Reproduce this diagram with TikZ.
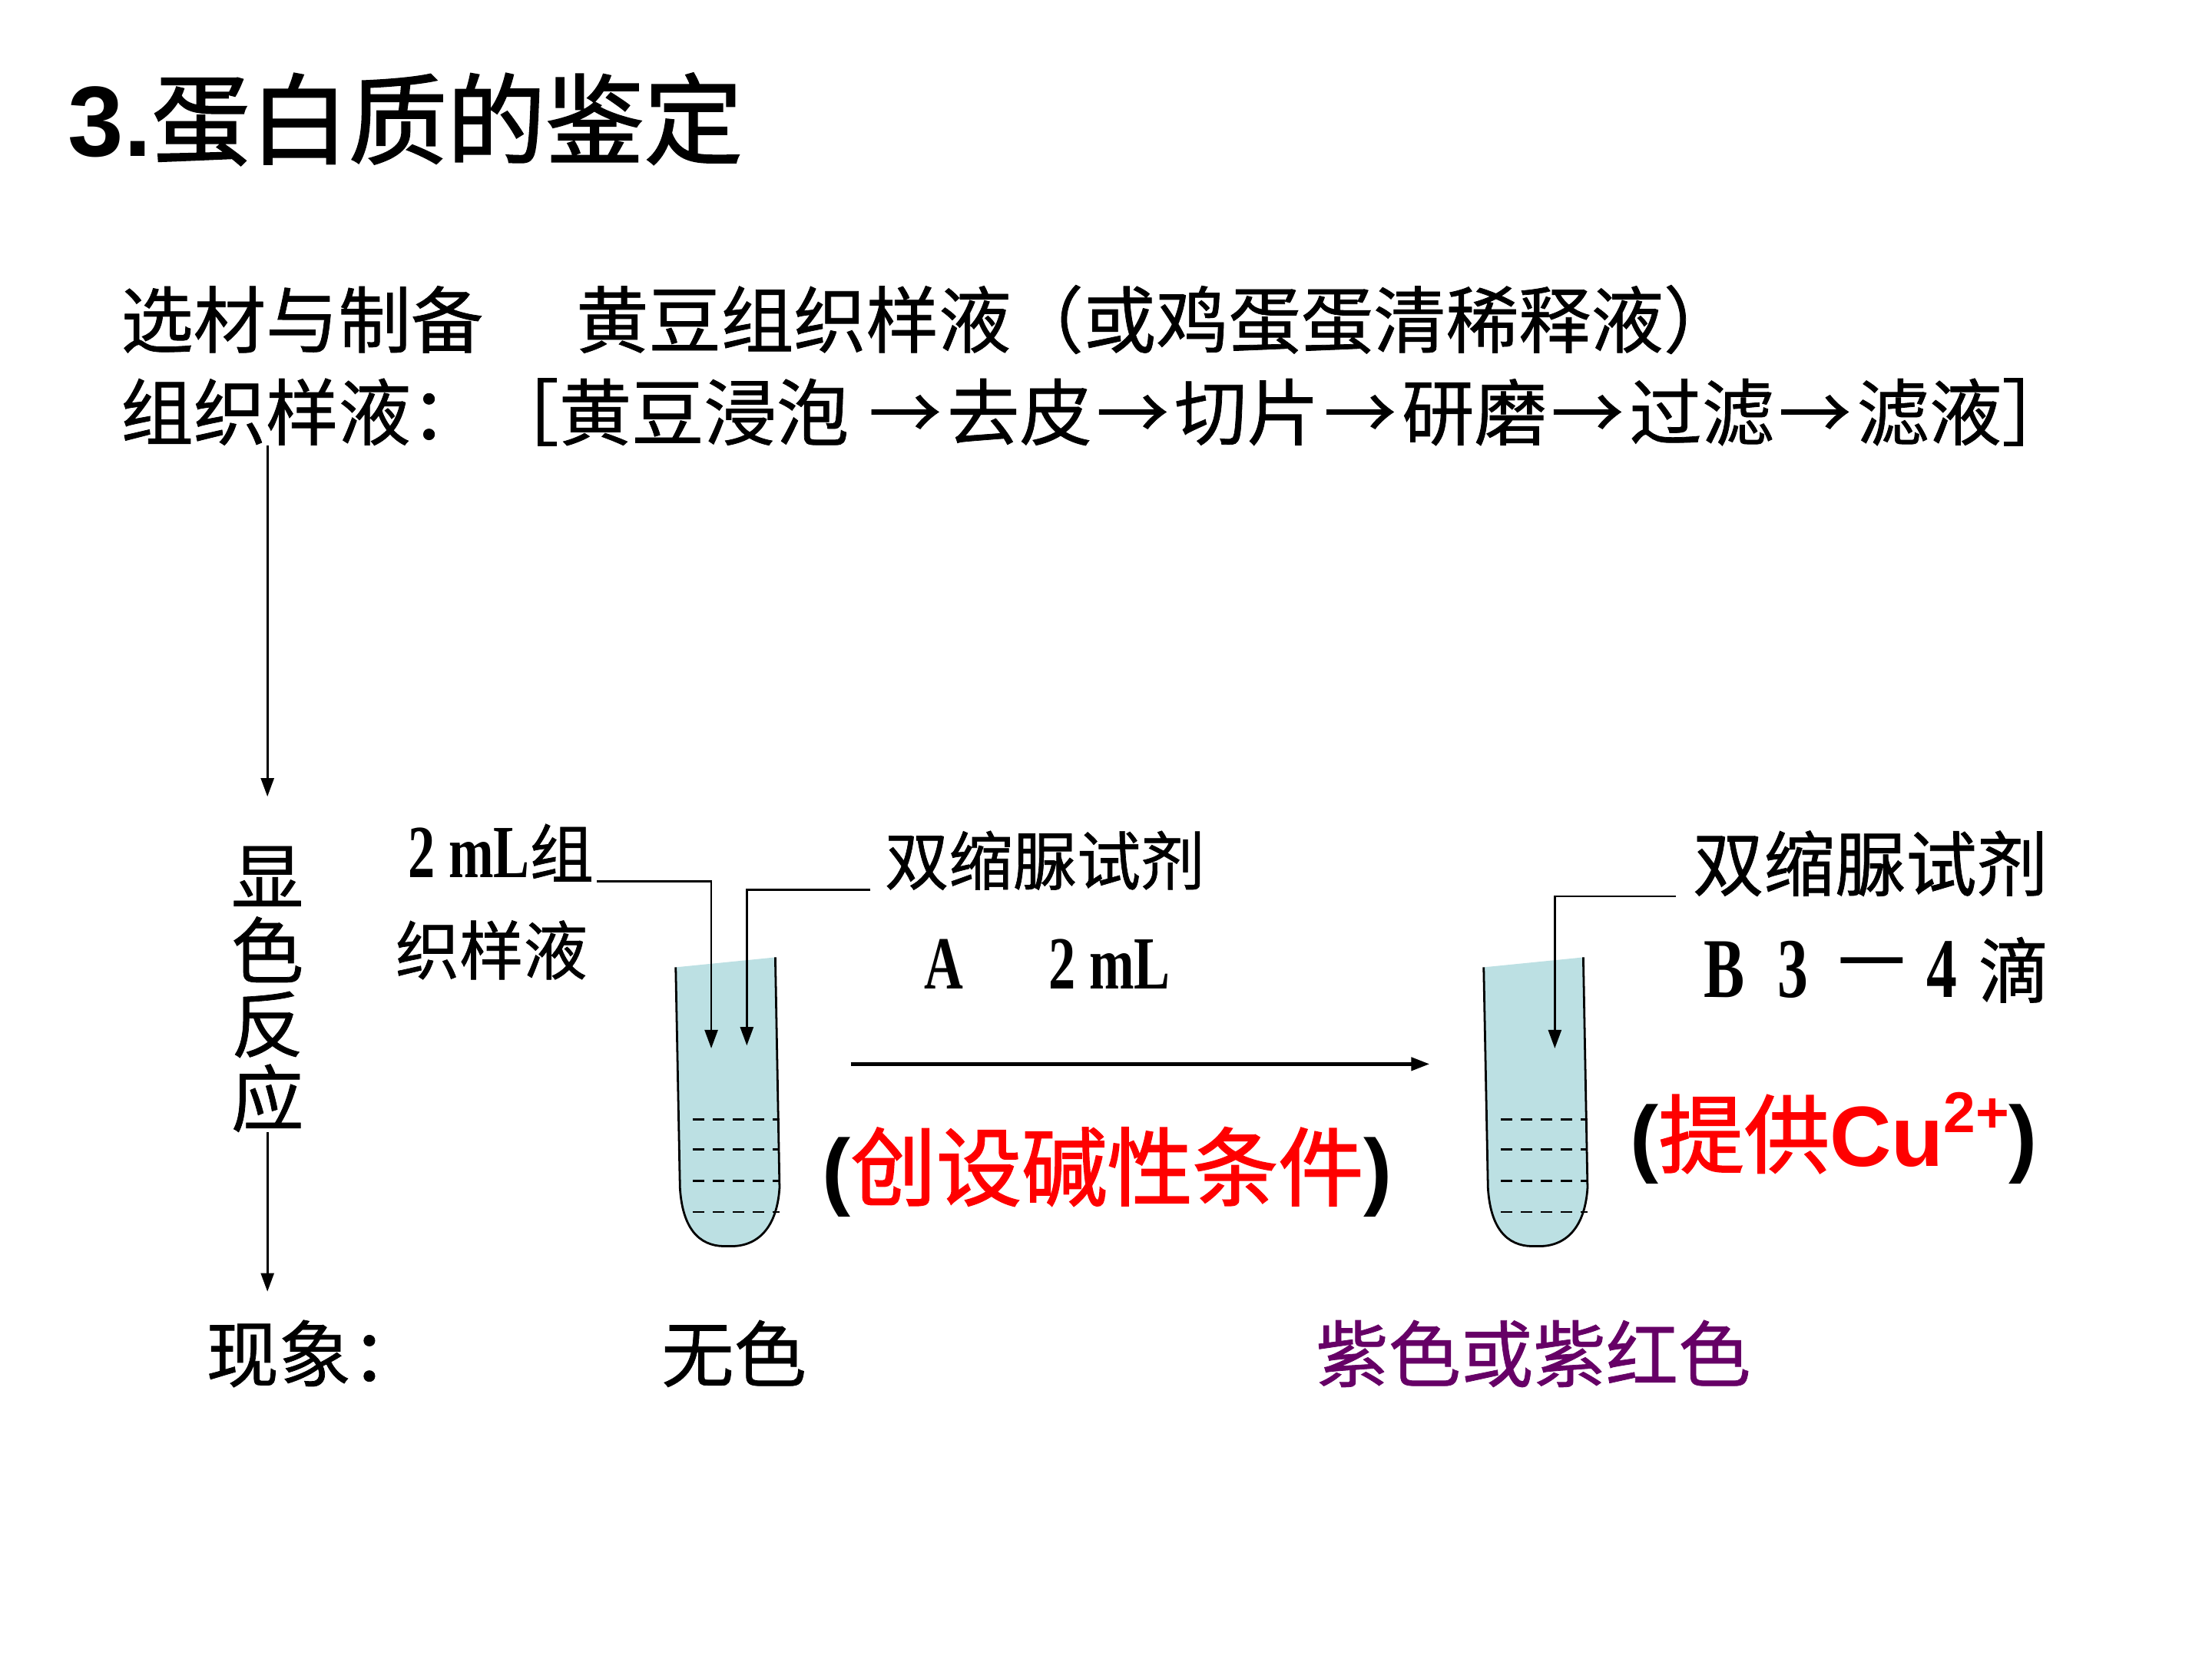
\documentclass[tikz,border=0pt]{standalone}
\usepackage{fontspec}
\setmainfont{Liberation Serif}
\newfontfamily\cjk[FakeBold=0.8]{Noto Sans CJK SC}
\newfontfamily\cjkheavy[FakeBold=1.6]{Noto Sans CJK SC}
\newfontfamily\arial{Liberation Sans}
\newfontfamily\narrowserif[FakeStretch=0.72]{Liberation Serif}
\usetikzlibrary{arrows.meta}

\newlength{\du}
\setlength{\du}{0.1mm}

\definecolor{tubefill}{rgb}{0.737,0.878,0.890}
\definecolor{purpletext}{rgb}{0.400,0.000,0.400}

\tikzset{
  every node/.style={inner sep=0pt,outer sep=0pt},
  txt/.style={anchor=base west},
  link/.style={line width=1.5\du,-{Triangle[length=3.7pt,width=2.6pt]}},
  tubeline/.style={line width=1.5\du},
  scaleline/.style={line width=1.5\du,dash pattern=on 2.3pt off 1.7pt},
}

\begin{document}
\begin{tikzpicture}
\pgftransformxscale{1.000000}
\pgftransformyscale{-1.000000}
\fill[white] (0\du,0\du) rectangle (1555\du,1166.25\du);
\useasboundingbox (0\du,0\du) rectangle (1555\du,1166.25\du);
% title
\node[txt] (title) at (48\du,110\du) {{\arial\bfseries\fontsize{20}{24}\selectfont 3.}{\cjkheavy\fontsize{19.7}{24}\selectfont 蛋白质的鉴定}};
% material and preparation
\node[txt] (select) at (85\du,244\du) {\cjk\fontsize{14.5}{17}\selectfont 选材与制备};
\node[txt] (soy) at (405\du,244\du) {\cjk\fontsize{14.5}{17}\selectfont 黄豆组织样液（或鸡蛋蛋清稀释液）};
\node[txt] (tissue) at (85\du,309\du) {\cjk\fontsize{14.5}{17}\selectfont 组织样液：};
\node[txt] (steps) at (342\du,309\du) {\cjk\fontsize{14.5}{17}\selectfont ［黄豆浸泡\hspace{14\du}→\hspace{4\du}去皮\hspace{3\du}→\hspace{4\du}切片\hspace{3\du}→\hspace{4\du}研磨\hspace{3\du}→\hspace{4\du}过滤\hspace{3\du}→\hspace{4\du}滤液］};
% colour reaction
\node[anchor=north,align=center,font=\cjk\fontsize{14.5}{14.8}\selectfont] (react) at (188\du,595\du) {显\\色\\反\\应};
\node[txt] (effect) at (145\du,971\du) {\cjk\fontsize{14.5}{17}\selectfont 现象：};
\draw[link,shorten >=35\du] (tissue.south -| react) -- (react.north);
\draw[link,shorten >=20\du] (react.south) -- (react |- effect.north);
% sample
\node[txt,inner xsep=2\du] (sample) at (285\du,617\du) {{\narrowserif\bfseries\fontsize{15}{18}\selectfont 2 mL}{\cjk\fontsize{12.8}{15}\selectfont 组}};
\node[txt] (sample2) at (278\du,685\du) {\cjk\fontsize{12.8}{15}\selectfont 织样液};
\node[txt,inner xsep=10\du] (reagA) at (612\du,622\du) {\cjk\fontsize{12.8}{15}\selectfont 双缩脲试剂};
\node[txt] (reagA2) at (650\du,695\du) {\narrowserif\bfseries\fontsize{15}{18}\selectfont A\hspace{60\du}2 mL};
\node[txt,inner xsep=12\du] (reagB) at (1178\du,626\du) {\cjk\fontsize{14.2}{17}\selectfont 双缩脲试剂};
\node[txt] (reagB2) at (1198\du,701\du) {{\narrowserif\bfseries\fontsize{17}{20}\selectfont B\hspace{23\du}3\hspace{23\du}\raisebox{12\du}{—}\hspace{17\du}4\hspace{15\du}}{\cjk\fontsize{14.2}{17}\selectfont 滴}};
% tube 1
\fill[tubefill] (475\du,680\du) -- (478\du,835\du) .. controls (480\du,868\du) and (495\du,877\du) .. (512\du,876\du) .. controls (530\du,877\du) and (546\du,866\du) .. (548\du,835\du) -- (545\du,673\du) -- cycle;
\draw[tubeline] (475\du,680\du) -- (478\du,835\du) .. controls (480\du,868\du) and (495\du,877\du) .. (512\du,876\du) .. controls (530\du,877\du) and (546\du,866\du) .. (548\du,835\du) -- (545\du,673\du);
\draw[scaleline] (487\du,787\du) -- (548\du,787\du);
\draw[scaleline] (487\du,808\du) -- (548\du,808\du);
\draw[scaleline] (487\du,830\du) -- (548\du,830\du);
\draw[scaleline] (487\du,852\du) -- (548\du,852\du);
% tube 2
\fill[tubefill] (1043\du,680\du) -- (1046\du,835\du) .. controls (1048\du,868\du) and (1063\du,877\du) .. (1080\du,876\du) .. controls (1098\du,877\du) and (1114\du,866\du) .. (1116\du,835\du) -- (1113\du,673\du) -- cycle;
\draw[tubeline] (1043\du,680\du) -- (1046\du,835\du) .. controls (1048\du,868\du) and (1063\du,877\du) .. (1080\du,876\du) .. controls (1098\du,877\du) and (1114\du,866\du) .. (1116\du,835\du) -- (1113\du,673\du);
\draw[scaleline] (1055\du,787\du) -- (1116\du,787\du);
\draw[scaleline] (1055\du,808\du) -- (1116\du,808\du);
\draw[scaleline] (1055\du,830\du) -- (1116\du,830\du);
\draw[scaleline] (1055\du,852\du) -- (1116\du,852\du);
% drops into the tubes
\coordinate (dropS) at (500\du,737\du);
\coordinate (dropA) at (525\du,735\du);
\coordinate (dropB) at (1093\du,737\du);
\draw[link] (sample.south east) -| (dropS);
\draw[link] (reagA.south west) -| (dropA);
\draw[link] (reagB.south west) -| (dropB);
% mixing
\coordinate (mixL) at (598\du,748\du);
\coordinate (mixR) at (1005\du,748\du);
\draw[link,line width=2.5\du] (mixL) -- (mixR);
\node[txt] (alkali) at (578\du,843\du) {\fontsize{17.1}{20}\selectfont{\arial\bfseries (}{\cjkheavy\color{red}创设碱性条件}{\arial\bfseries )}};
\node[txt] (copper) at (1146\du,820\du) {\fontsize{17.1}{20}\selectfont{\arial\bfseries (}{\cjkheavy\color{red}提供}{\arial\bfseries\color{red}Cu\raisebox{0.4em}{\fontsize{11.5}{12}\selectfont 2+}}{\arial\bfseries )}};
% results
\node[txt] (clear) at (465\du,971\du) {\cjk\fontsize{14.5}{17}\selectfont 无色};
\node[txt,text=purpletext] (violet) at (925\du,971\du) {\cjk\fontsize{14.5}{17}\selectfont 紫色或紫红色};
\end{tikzpicture}
\end{document}
